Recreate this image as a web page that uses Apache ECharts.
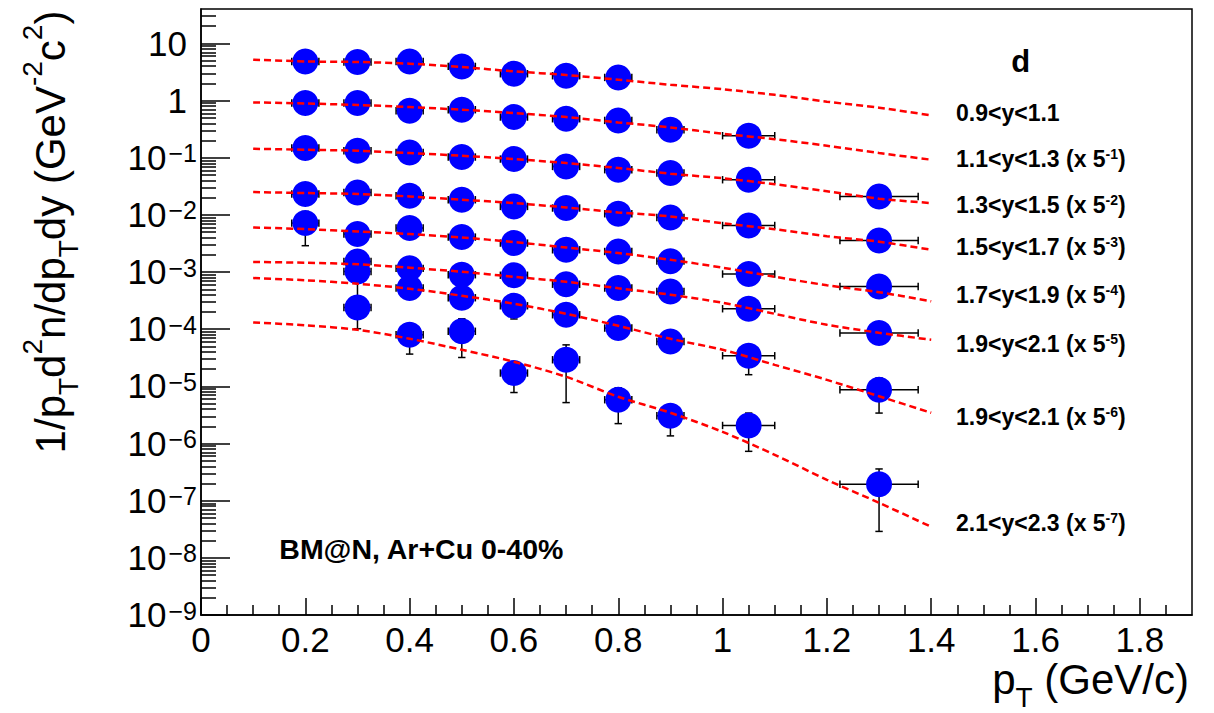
<!DOCTYPE html>
<html>
<head>
<meta charset="utf-8">
<script src="https://cdn.jsdelivr.net/npm/echarts@6/dist/echarts.min.js"></script>
<style>html,body{margin:0;padding:0;background:#fff}#c{width:1214px;height:713px}</style>
</head>
<body>
<div id="c"></div>
<script>
// ---------- data ----------
const PT_ALL = [0.2, 0.3, 0.4, 0.5, 0.6, 0.7, 0.8, 0.9, 1.05, 1.3];
const X_ERR  = [0.026, 0.026, 0.026, 0.026, 0.026, 0.026, 0.026, 0.026, 0.05, 0.075];

const S1_PT = [0.2, 0.3, 0.4, 0.5, 0.6, 0.7, 0.8];
const S1_Y  = [4.84, 4.73, 4.84, 3.96, 2.95, 2.72, 2.54];
const S1_EY = [0.3, 0.3, 0.3, 0.25, 0.2, 0.18, 0.17];

const S2_PT = [0.2, 0.3, 0.4, 0.5, 0.6, 0.7, 0.8, 0.9, 1.05];
const S2_Y  = [0.906, 0.906, 0.664, 0.692, 0.515, 0.481, 0.450, 0.309, 0.243];
const S2_EY = [0.06, 0.06, 0.05, 0.05, 0.04, 0.04, 0.035, 0.03, 0.03];

const S3_PT = [0.2, 0.3, 0.4, 0.5, 0.6, 0.7, 0.8, 0.9, 1.05, 1.3];
const S3_Y  = [0.148, 0.1325, 0.124, 0.1028, 0.0948, 0.0704, 0.0617, 0.0540, 0.0412, 0.0210];
const S3_EY = [0.01, 0.01, 0.009, 0.008, 0.007, 0.005, 0.005, 0.004, 0.004, 0.003];

const S4_PT = [0.2, 0.3, 0.4, 0.5, 0.6, 0.7, 0.8, 0.9, 1.05, 1.3];
const S4_Y  = [0.0232, 0.0247, 0.0216, 0.0184, 0.01406, 0.01318, 0.01047, 0.00902, 0.00653, 0.00357];
const S4_EY = [0.002, 0.002, 0.002, 0.0015, 0.0012, 0.0011, 0.0009, 0.0008, 0.0006, 0.0004];

const S5_PT = [0.2, 0.3, 0.4, 0.5, 0.6, 0.7, 0.8, 0.9, 1.05, 1.3];
const S5_Y  = [0.00719, 0.00462, 0.00589, 0.00409, 0.00321, 0.00245, 0.00229, 0.00155, 0.000923, 0.000560];
const S5_EY = [0.0043, 0.0005, 0.0006, 0.0004, 0.0003, 0.00025, 0.00022, 0.00015, 0.0001, 0.00007];

const S6_PT = [0.3, 0.4, 0.5, 0.6, 0.7, 0.8, 0.9, 1.05, 1.3];
const S6_Y  = [0.00153, 0.00116, 0.000897, 0.000879, 0.000612, 0.000525, 0.000458, 0.000228, 0.0000857];
const S6_EY = [0.0002, 0.00015, 0.0001, 0.0001, 0.00008, 0.00007, 0.00006, 0.00004, 0.000015];

const S7_PT = [0.3, 0.4, 0.5, 0.6, 0.7, 0.8, 0.9, 1.05, 1.3];
const S7_Y  = [0.001023, 0.000525, 0.000355, 0.000257, 0.000179, 0.0001047, 0.0000610, 0.0000343, 0.00000871];
const S7_EY = [0.00085, 0.00008, 0.00006, 0.000106, 0.00004, 0.00002, 0.000012, 0.0000183, 0.0000053];

const S8_PT = [0.3, 0.4, 0.5, 0.6, 0.7, 0.8, 0.9, 1.05, 1.3];
const S8_Y  = [0.000240, 0.0000800, 0.0000920, 0.0000171, 0.0000292, 0.00000583, 0.00000306, 0.00000207, 0.000000194];
const S8_EY = [0.000138, 0.0000433, 0.000060, 0.0000093, 0.000024, 0.0000036, 0.0000017, 0.00000134, 0.000000165];

// fit curves (read at these pT values)
const FIT_PT = [0.1, 0.2, 0.3, 0.4, 0.5, 0.6, 0.7, 0.8, 0.9, 1.0, 1.1, 1.2, 1.3, 1.4];
const FIT1 = [5.19, 4.84, 4.73, 4.42, 3.86, 3.24, 2.80, 2.32, 1.89, 1.58, 1.26, 0.955, 0.750, 0.550];
const FIT2 = [0.929, 0.891, 0.836, 0.771, 0.692, 0.605, 0.515, 0.415, 0.339, 0.263, 0.211, 0.162, 0.121, 0.0923];
const FIT3 = [0.1435, 0.138, 0.1324, 0.1208, 0.1084, 0.0948, 0.0807, 0.0661, 0.0525, 0.0438, 0.0344, 0.0259, 0.0192, 0.0161];
const FIT4 = [0.0251, 0.0241, 0.0232, 0.0210, 0.0184, 0.0161, 0.0135, 0.01104, 0.00940, 0.00714, 0.00561, 0.00423, 0.00339, 0.00245];
const FIT5 = [0.00603, 0.00565, 0.00513, 0.00462, 0.00403, 0.00335, 0.00269, 0.00215, 0.00164, 0.00119, 0.000828, 0.000587, 0.000444, 0.000308];
const FIT6 = [0.00150, 0.001455, 0.001368, 0.00119, 0.001012, 0.000826, 0.000676, 0.000521, 0.000401, 0.000290, 0.000186, 0.0001197, 0.0000867, 0.0000653];
const FIT7 = [0.000785, 0.000719, 0.000624, 0.000511, 0.000385, 0.000279, 0.000186, 0.0001148, 0.0000679, 0.0000437, 0.0000238, 0.0000130, 0.00000671, 0.00000345];
const FIT8 = [0.0001312, 0.0001172, 0.0000977, 0.0000681, 0.0000437, 0.0000269, 0.0000147, 0.00000658, 0.00000345, 0.0000016, 0.000000635, 0.000000232, 0.0000000918, 0.0000000349];

const RAPIDITY = ['0.9<y<1.1', '1.1<y<1.3', '1.3<y<1.5', '1.5<y<1.7', '1.7<y<1.9', '1.9<y<2.1', '1.9<y<2.1', '2.1<y<2.3'];
const SCALE_EXP = [0, -1, -2, -3, -4, -5, -6, -7];

// axis ticks / tick labels
const X_TICKS = [0, 0.2, 0.4, 0.6, 0.8, 1.0, 1.2, 1.4, 1.6, 1.8];
const Y_TICKS = [1e-9, 1e-8, 1e-7, 1e-6, 1e-5, 1e-4, 1e-3, 1e-2, 1e-1, 1, 10];

// ---------- layout / style ----------
const FONT = '"Liberation Sans", Arial, Helvetica, sans-serif';
const X_MINOR = [];
for (let i = 1; i <= 37; i++) { if (i % 4 !== 0) X_MINOR.push(+(i * 0.05).toFixed(2)); }
const Y_MINOR = [];
for (let k = -9; k <= 1; k++) {
  for (let m = 2; m <= 9; m++) {
    const v = +(m * Math.pow(10, k)).toPrecision(3);
    if (v < 40) Y_MINOR.push(v);
  }
}

const SERIES = [
  {pt: S1_PT, y: S1_Y, ey: S1_EY, fit: FIT1},
  {pt: S2_PT, y: S2_Y, ey: S2_EY, fit: FIT2},
  {pt: S3_PT, y: S3_Y, ey: S3_EY, fit: FIT3},
  {pt: S4_PT, y: S4_Y, ey: S4_EY, fit: FIT4},
  {pt: S5_PT, y: S5_Y, ey: S5_EY, fit: FIT5},
  {pt: S6_PT, y: S6_Y, ey: S6_EY, fit: FIT6},
  {pt: S7_PT, y: S7_Y, ey: S7_EY, fit: FIT7},
  {pt: S8_PT, y: S8_Y, ey: S8_EY, fit: FIT8}
];

function errRender(params, api) {
  const x = api.value(0), y = api.value(1), ex = api.value(2), ey = api.value(3);
  const lo = api.coord([x, y - ey]), hi = api.coord([x, y + ey]);
  const l = api.coord([x - ex, y]), r = api.coord([x + ex, y]);
  const c = 3.7;
  const st = () => ({stroke: '#000', lineWidth: 1.5});
  return {type: 'group', children: [
    {type: 'line', shape: {x1: lo[0], y1: lo[1], x2: hi[0], y2: hi[1]}, style: st()},
    {type: 'line', shape: {x1: lo[0] - c, y1: lo[1], x2: lo[0] + c, y2: lo[1]}, style: st()},
    {type: 'line', shape: {x1: hi[0] - c, y1: hi[1], x2: hi[0] + c, y2: hi[1]}, style: st()},
    {type: 'line', shape: {x1: l[0], y1: l[1], x2: r[0], y2: r[1]}, style: st()},
    {type: 'line', shape: {x1: l[0], y1: l[1] - c, x2: l[0], y2: l[1] + c}, style: st()},
    {type: 'line', shape: {x1: r[0], y1: r[1] - c, x2: r[0], y2: r[1] + c}, style: st()}
  ]};
}

const series = [];
SERIES.forEach((s) => {
  series.push({
    type: 'custom', xAxisIndex: 0, yAxisIndex: 0, renderItem: errRender, silent: true,
    encode: {x: 0, y: 1},
    data: s.pt.map((p, j) => [p, s.y[j], X_ERR[PT_ALL.indexOf(p)], s.ey[j]]),
    z: 3
  });
  series.push({
    type: 'scatter', xAxisIndex: 0, yAxisIndex: 0, symbol: 'circle', symbolSize: 26,
    itemStyle: {color: '#0000ff', opacity: 1}, silent: true,
    data: s.pt.map((p, j) => [p, s.y[j]]),
    z: 3
  });
});
SERIES.forEach((s) => {
  series.push({
    type: 'line', xAxisIndex: 0, yAxisIndex: 0, showSymbol: false, symbol: 'none', smooth: 0.3, silent: true,
    lineStyle: {color: '#ff0000', width: 2.5, type: [7, 4]},
    data: FIT_PT.map((p, j) => [p, s.fit[j]]),
    z: 4
  });
});

// right-hand labels
const LABEL_Y = [113.3, 159.3, 205, 246.7, 295, 344.3, 416.7, 522.7];
const graphics = RAPIDITY.map((r, i) => {
  const txt = SCALE_EXP[i] === 0 ? '{m|' + r + '}' : '{m|' + r + ' (x 5}{s|' + SCALE_EXP[i] + '}{m|)}';
  return {
    type: 'text', x: 956, y: LABEL_Y[i], silent: true,
    style: {
      text: txt, align: 'left', verticalAlign: 'middle',
      rich: {
        m: {fontSize: 23, fontWeight: 'bold', fontFamily: FONT, fill: '#000', lineHeight: 24},
        s: {fontSize: 14, fontWeight: 'bold', fontFamily: FONT, fill: '#000', lineHeight: 13, verticalAlign: 'top'}
      }
    }
  };
});
graphics.push({
  type: 'text', x: 1020.7, y: 61, silent: true,
  style: {text: 'd', fontSize: 31, fontWeight: 'bold', fontFamily: FONT, fill: '#000', align: 'center', verticalAlign: 'middle'}
});
graphics.push({
  type: 'text', x: 279.3, y: 549, silent: true,
  style: {text: 'BM@N, Ar+Cu 0-40%', fontSize: 28.5, fontWeight: 'bold', fontFamily: FONT, fill: '#000', align: 'left', verticalAlign: 'middle'}
});
const titleRich = {
  m: {fontSize: 42, fontFamily: FONT, fill: '#000', lineHeight: 64},
  b: {fontSize: 28, fontFamily: FONT, fill: '#000', lineHeight: 22, verticalAlign: 'bottom'},
  t: {fontSize: 28, fontFamily: FONT, fill: '#000', lineHeight: 22, verticalAlign: 'top'}
};
graphics.push({
  type: 'text', x: 1189, y: 679, silent: true,
  style: {text: '{m|p}{b|T}{m| (GeV/c)}', align: 'right', verticalAlign: 'middle', rich: titleRich}
});
graphics.push({
  type: 'text', x: 50, y: 232, rotation: Math.PI / 2, silent: true,
  style: {text: '{m|1/p}{b|T}{m|d}{t|2}{m|n/dp}{b|T}{m|dy (GeV}{t|-2}{m|c}{t|2}{m|)}', align: 'center', verticalAlign: 'middle', rich: titleRich}
});

const option = {
  animation: false,
  backgroundColor: '#ffffff',
  grid: {left: 201, right: 22, top: 9, bottom: 98, show: true, borderColor: '#000', borderWidth: 1.5, backgroundColor: 'transparent', containLabel: false},
  xAxis: [
    {
      type: 'value', min: 0, max: 1.9, position: 'bottom',
      axisLine: {show: true, onZero: false, lineStyle: {color: '#000', width: 1.5}},
      axisTick: {show: true, inside: true, length: 17, customValues: X_TICKS, lineStyle: {color: '#000', width: 1.5}},
      axisLabel: {show: true, customValues: X_TICKS, margin: 7, color: '#000', fontSize: 35, fontFamily: FONT,
        formatter: (v) => String(+(+v).toFixed(1))},
      splitLine: {show: false}, minorTick: {show: false}
    },
    {
      type: 'value', min: 0, max: 1.9, position: 'bottom',
      axisLine: {show: false},
      axisTick: {show: true, inside: true, length: 10, customValues: X_MINOR, lineStyle: {color: '#000', width: 1.5}},
      axisLabel: {show: false}, splitLine: {show: false}
    }
  ],
  yAxis: [
    {
      type: 'log', logBase: 10, min: 1e-9, max: 40, position: 'left',
      axisLine: {show: true, onZero: false, lineStyle: {color: '#000', width: 1.5}},
      axisTick: {show: true, inside: true, length: 29, customValues: Y_TICKS, lineStyle: {color: '#000', width: 1.5}},
      axisLabel: {
        show: true, customValues: Y_TICKS, margin: 4, color: '#000', fontSize: 35, fontFamily: FONT,
        formatter: (v) => {
          const e = Math.round(Math.log10(v));
          if (e === 1) return '{p|10}';
          if (e === 0) return '{p|1}';
          return '{m|10}{s|\u2212' + (-e) + '}';
        },
        rich: {
          p: {fontSize: 35, fontFamily: FONT, color: '#000', lineHeight: 40, padding: [0, 10, 0, 0]},
          m: {fontSize: 35, fontFamily: FONT, color: '#000', lineHeight: 34, verticalAlign: 'bottom'},
          s: {fontSize: 25, fontFamily: FONT, color: '#000', lineHeight: 26, verticalAlign: 'top', padding: [0, 0, 15, 2]}
        }
      },
      splitLine: {show: false}, minorTick: {show: false}
    },
    {
      type: 'log', logBase: 10, min: 1e-9, max: 40, position: 'left',
      axisLine: {show: false},
      axisTick: {show: true, inside: true, length: 15, customValues: Y_MINOR, lineStyle: {color: '#000', width: 1.5}},
      axisLabel: {show: false}, splitLine: {show: false}
    }
  ],
  series: series,
  graphic: graphics
};

const chart = echarts.init(document.getElementById('c'), null, {renderer: 'svg', width: 1214, height: 713});
chart.setOption(option);
</script>
</body>
</html>
